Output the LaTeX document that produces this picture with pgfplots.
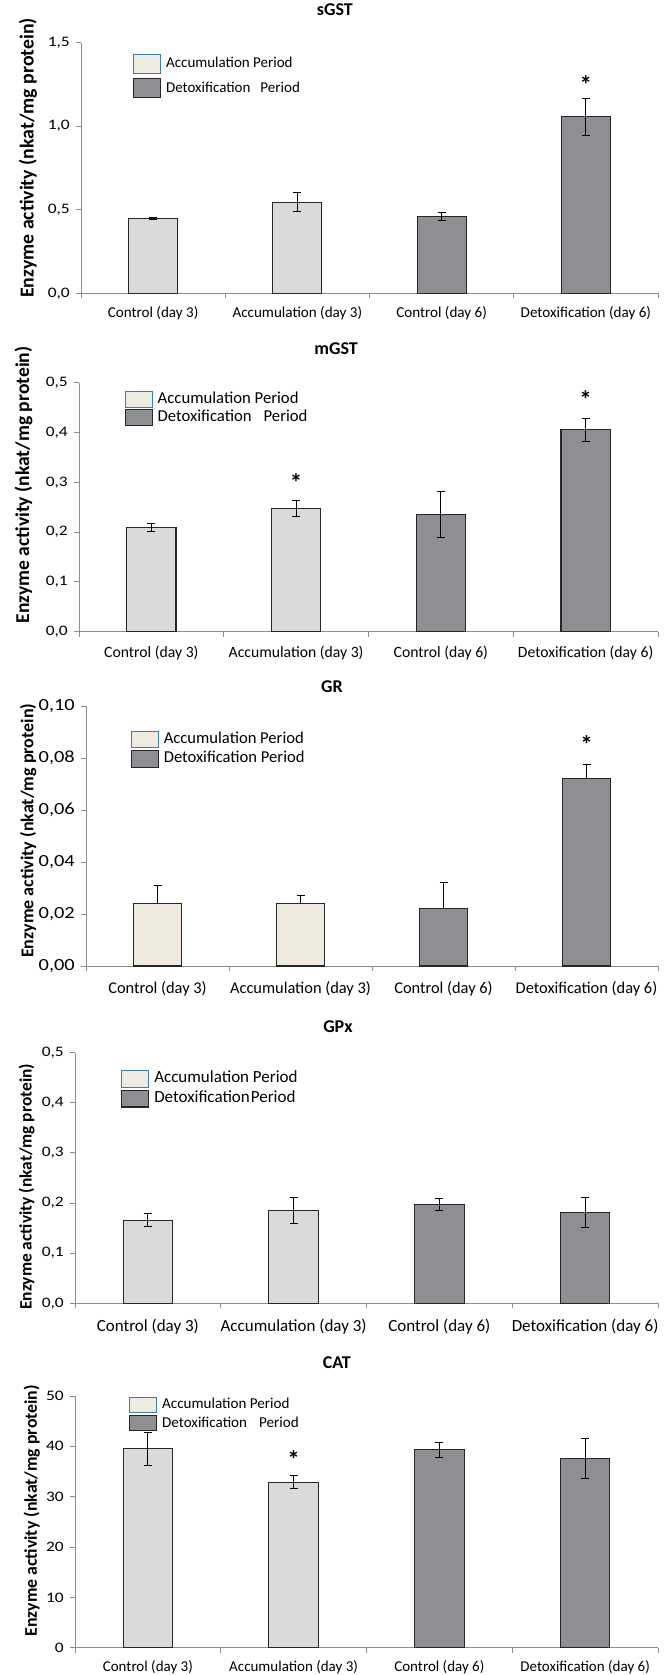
\documentclass[border=0pt]{standalone}
\usepackage{fontspec}
\setmainfont{Carlito}
\newfontfamily\tickfont{Carlito}[FakeStretch=1.2]
\usepackage{pgfplots}
\pgfplotsset{compat=1.18}
\definecolor{lightbar}{HTML}{D9DADC}
\definecolor{creambar}{HTML}{EEEAE0}
\definecolor{legcream}{HTML}{EEEBE3}
\definecolor{darkbar}{HTML}{8E8F93}
\definecolor{barline}{HTML}{262626}
\definecolor{legblue}{HTML}{3C80A8}
\definecolor{axisgray}{HTML}{8C8C8C}
\newcommand{\fs}[1]{\fontsize{#1}{#1}\selectfont}
\tikzset{astk/.style={font=\bfseries\fs{25}, inner sep=0pt}}
\pgfplotsset{
 panel/.style={
  scale only axis, anchor=south west,
  xmin=-0.5, xmax=3.5, ymin=0,
  axis x line=bottom, axis y line=left,
  axis line style={-, draw=axisgray, line width=0.9pt},
  tick align=outside, major tick length=5pt,
  tick style={draw=axisgray, line width=0.9pt},
  xtick={-0.5,0.5,1.5,2.5,3.5}, xticklabels={,,,,},
  extra x ticks={0,1,2,3},
  extra x tick labels={Control (day 3),Accumulation (day 3),Control (day 6),Detoxification (day 6)},
  extra x tick style={major tick length=0pt},
  yticklabel style={anchor=east, inner sep=0pt, xshift=-6pt},
  ylabel={Enzyme activity (nkat/mg protein)},
  title style={anchor=center, yshift=0pt, font=\bfseries\fs{18}},
  legend cell align=left,
  legend style={draw=none, fill=none, anchor=north west, inner sep=0pt, outer sep=0pt,
     nodes={inner sep=0pt, text height=8pt, text depth=0pt},
     /tikz/every odd column/.append style={column sep=5pt}},
  clip=false,
 },
 barbase/.style={ybar, bar width=0.34, bar shift=0pt, draw=barline, line width=1.1pt},
 errboth/.style={error bars/.cd, y dir=both, y explicit,
     error bar style={black, line width=0.9pt},
     error mark options={black, rotate=90, mark size=4pt, line width=0.9pt}},
 errplus/.style={error bars/.cd, y dir=plus, y explicit,
     error bar style={black, line width=0.9pt},
     error mark options={black, rotate=90, mark size=4pt, line width=0.9pt}},
 legacc/.style={legend image code/.code={\draw[draw=legblue, fill=legcream, line width=1pt] (0pt,-#1) rectangle (27pt,#1);}},
 legdet/.style={legend image code/.code={\draw[draw=barline, fill=darkbar, line width=1.2pt] (0pt,-#1) rectangle (27pt,#1);}},
}
\begin{document}
\begin{tikzpicture}
\path[use as bounding box] (0pt,0pt) rectangle (670pt,1675pt);

% ---------------- sGST
\begin{axis}[panel, at={(81pt,1381.7pt)}, width=577pt, height=250.6pt,
  ymax=1.5, ytick={0,0.5,1,1.5}, yticklabels={{0,0},{0,5},{1,0},{1,5}},
  yticklabel style={font=\tickfont\fs{14.5}},
  xticklabel style={anchor=center, yshift=-20pt, font=\fs{15.1}},
  ylabel style={at={(axis description cs:-0.092,0.54)}, anchor=center, font=\bfseries\fs{19.8}},
  title={sGST}, title style={at={(axis description cs:0.44,1.107)}},
  legend style={at={(rel axis cs:0.09,0.955)}, row sep=4pt, font=\fs{15}}]
\addplot[barbase, fill=lightbar, legacc=9.5pt, errboth] coordinates {(0,0.449) +- (0,0.005) (1,0.545) +- (0,0.058)};
\addlegendentry{Accumulation Period}
\addplot[barbase, fill=darkbar, legdet=9.5pt, errboth] coordinates {(2,0.459) +- (0,0.026) (3,1.057) +- (0,0.112)};
\addlegendentry{Detoxification\hspace{10pt}Period}
\node[astk] at (axis cs:3,1.25) {*};
\end{axis}

% ---------------- mGST
\begin{axis}[panel, at={(79pt,1043.3pt)}, width=579pt, height=249pt,
  ymax=0.5, ytick={0,0.1,0.2,0.3,0.4,0.5}, yticklabels={{0,0},{0,1},{0,2},{0,3},{0,4},{0,5}},
  yticklabel style={font=\tickfont\fs{14.5}},
  xticklabel style={anchor=center, yshift=-21.6pt, font=\fs{15.7}},
  ylabel style={at={(axis description cs:-0.096,0.589)}, anchor=center, font=\bfseries\fs{19.6}},
  title={mGST}, title style={at={(axis description cs:0.444,1.111)}},
  legend style={at={(rel axis cs:0.0786,0.968)}, row sep=1.3pt, font=\fs{16.7}}]
\addplot[barbase, fill=lightbar, legacc=8pt, errboth] coordinates {(0,0.210) +- (0,0.008) (1,0.247) +- (0,0.016)};
\addlegendentry{Accumulation Period}
\addplot[barbase, fill=darkbar, legdet=8pt, errboth] coordinates {(2,0.236) +- (0,0.046) (3,0.406) +- (0,0.023)};
\addlegendentry{Detoxification\hspace{12pt}Period}
\node[astk] at (axis cs:1,0.300) {*};
\node[astk] at (axis cs:3,0.467) {*};
\end{axis}

% ---------------- GR
\begin{axis}[panel, at={(86pt,709pt)}, width=572pt, height=260pt,
  ymax=0.1, ytick={0,0.02,0.04,0.06,0.08,0.1}, yticklabels={{0,00},{0,02},{0,04},{0,06},{0,08},{0,10}},
  yticklabel style={font=\tickfont\fs{17}},
  xticklabel style={anchor=center, yshift=-23pt, font=\fs{16.4}},
  ylabel style={at={(axis description cs:-0.101,0.52)}, anchor=center, font=\bfseries\fs{18}},
  title={GR}, title style={at={(axis description cs:0.43,1.05)}},
  legend style={at={(rel axis cs:0.078,0.905)}, row sep=1.7pt, font=\fs{16.6}}]
\addplot[barbase, fill=creambar, legacc=8.3pt, errplus] coordinates {(0,0.0241) +- (0,0.0067) (1,0.0241) +- (0,0.0031)};
\addlegendentry{Accumulation Period}
\addplot[barbase, fill=darkbar, legdet=8.3pt, errplus] coordinates {(2,0.0222) +- (0,0.0099) (3,0.0722) +- (0,0.0055)};
\addlegendentry{Detoxification Period}
\node[astk] at (axis cs:3,0.085) {*};
\end{axis}

% ---------------- GPx
\begin{axis}[panel, at={(75pt,371.7pt)}, width=583pt, height=250.6pt,
  ymax=0.5, ytick={0,0.1,0.2,0.3,0.4,0.5}, yticklabels={{0,0},{0,1},{0,2},{0,3},{0,4},{0,5}},
  yticklabel style={font=\tickfont\fs{14.5}},
  xticklabel style={anchor=center, yshift=-23.4pt, font=\fs{17}},
  ylabel style={at={(axis description cs:-0.083,0.465)}, anchor=center, font=\bfseries\fs{17.4}},
  title={GPx}, title style={at={(axis description cs:0.451,1.079)}},
  legend style={at={(rel axis cs:0.079,0.931)}, row sep=2.3pt, font=\fs{17}}]
\addplot[barbase, fill=lightbar, legacc=8.3pt, errboth] coordinates {(0,0.166) +- (0,0.013) (1,0.185) +- (0,0.026)};
\addlegendentry{Accumulation Period}
\addplot[barbase, fill=darkbar, legdet=8.3pt, errboth] coordinates {(2,0.197) +- (0,0.012) (3,0.181) +- (0,0.030)};
\addlegendentry{Detoxification\hspace{1pt}Period}
\end{axis}

% ---------------- CAT
\begin{axis}[panel, at={(75pt,27.3pt)}, width=583pt, height=251.7pt,
  ymax=50, ytick={0,10,20,30,40,50}, yticklabels={0,10,20,30,40,50},
  yticklabel style={font=\tickfont\fs{14.5}},
  xticklabel style={anchor=center, yshift=-19.6pt, font=\fs{15}},
  ylabel style={at={(axis description cs:-0.074,0.544)}, anchor=center, font=\bfseries\fs{17.8}},
  title={CAT}, title style={at={(axis description cs:0.449,1.107)}},
  legend style={at={(rel axis cs:0.0926,0.997)}, row sep=2.3pt, font=\fs{15.1}}]
\addplot[barbase, fill=lightbar, legacc=7.5pt, errboth] coordinates {(0,39.5) +- (0,3.35) (1,32.9) +- (0,1.25)};
\addlegendentry{Accumulation Period}
\addplot[barbase, fill=darkbar, legdet=7.5pt, errboth] coordinates {(2,39.3) +- (0,1.55) (3,37.6) +- (0,3.9)};
\addlegendentry{Detoxification\hspace{12pt}Period}
\node[astk] at (axis cs:1,37.3) {*};
\end{axis}
\end{tikzpicture}
\end{document}
